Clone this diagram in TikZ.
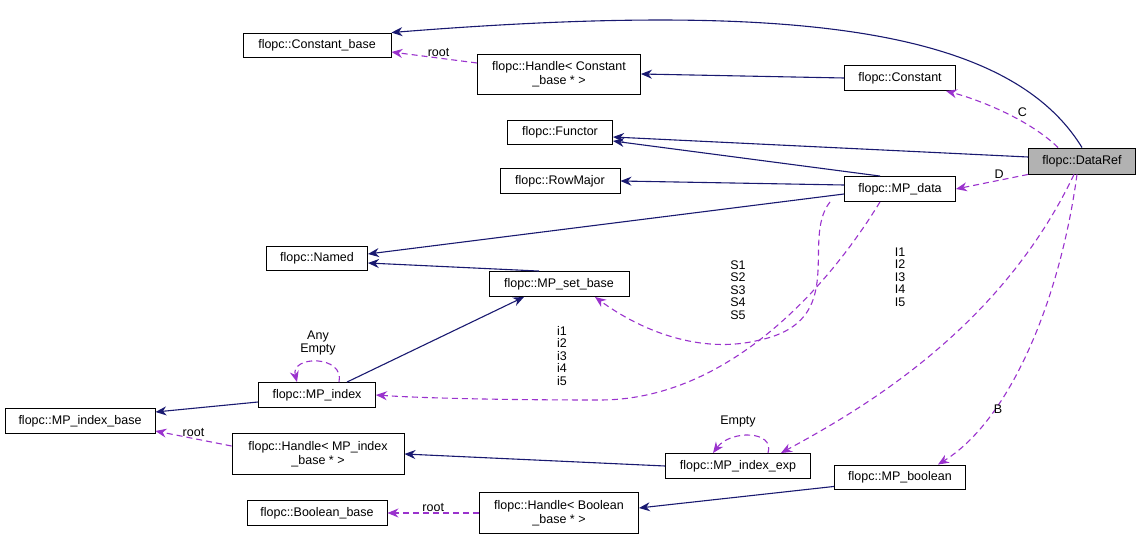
\documentclass[tikz,border=0pt]{standalone}
\usepackage{fontspec}
\setmainfont{Liberation Sans}
\usetikzlibrary{arrows.meta}
\definecolor{navy}{HTML}{191970}
\definecolor{purp}{HTML}{9A32CD}
\begin{document}
\begin{tikzpicture}[x=1pt,y=-1pt,
  box/.style={draw=black,fill=white,line width=0.9pt,inner sep=0pt,align=center,font=\fontsize{12.5}{14}\selectfont},
  inh/.style={draw=navy,-{Stealth[length=11pt,width=9pt]},line width=1.1pt},
  use/.style={draw=purp,dash pattern=on 6pt off 4pt,-{Stealth[length=11pt,width=9pt]},line width=1.1pt},
  lab/.style={font=\fontsize{12.5}{12.5}\selectfont,align=center,inner sep=1pt}]
\path[use as bounding box] (0,0) rectangle (1141,540);
\node[box,minimum width=148,minimum height=24] (cb) at (317,45) {flopc::Constant\_base};
\node[box,minimum width=163,minimum height=40] (hcb) at (559,74) {flopc::Handle< Constant\\\_base * >};
\node[box,minimum width=111,minimum height=25] (con) at (900,78) {flopc::Constant};
\node[box,minimum width=105,minimum height=24] (fun) at (560,132) {flopc::Functor};
\node[box,minimum width=107,minimum height=26,fill=black!30] (dr) at (1082,161) {flopc::DataRef};
\node[box,minimum width=120,minimum height=25] (rm) at (560,181) {flopc::RowMajor};
\node[box,minimum width=111,minimum height=25] (md) at (900,189) {flopc::MP\_data};
\node[box,minimum width=101,minimum height=24] (nam) at (317,258) {flopc::Named};
\node[box,minimum width=140,minimum height=25] (msb) at (559,284) {flopc::MP\_set\_base};
\node[box,minimum width=117,minimum height=25] (mi) at (317,395) {flopc::MP\_index};
\node[box,minimum width=150,minimum height=25] (mib) at (80,421) {flopc::MP\_index\_base};
\node[box,minimum width=172,minimum height=41] (hmib) at (318,454) {flopc::Handle< MP\_index\\\_base * >};
\node[box,minimum width=145,minimum height=25] (mie) at (738,466) {flopc::MP\_index\_exp};
\node[box,minimum width=131,minimum height=24] (mb) at (900,477) {flopc::MP\_boolean};
\node[box,minimum width=140,minimum height=25] (bb) at (317,513) {flopc::Boolean\_base};
\node[box,minimum width=159,minimum height=41] (hbb) at (559,513) {flopc::Handle< Boolean\\\_base * >};

\draw[inh] (dr.north) .. controls (1010,30) and (800,0) .. (cb.north east);
\draw[use] (hcb.west |- 0,63) -- node[lab,above,pos=0.45]{root} (cb.east |- 0,52);
\draw[inh] (con.west) -- (hcb.east);
\draw[use] ([xshift=30pt]dr.north west) .. controls (1030,120) and (980,100) .. node[lab,pos=0.4,above right]{C} ([xshift=-10pt]con.south east);
\draw[inh] ([yshift=4pt]dr.west) -- (fun.east |- 0,137);
\draw[inh] ([xshift=-20pt]md.north) -- (fun.east |- 0,141);
\draw[inh] ([yshift=4pt]md.west) -- (rm.east);
\draw[use] (dr.south west) -- node[lab,above,pos=0.4]{D} (md.east);
\draw[inh] ([yshift=-5pt]md.west) -- (nam.east |- 0,254);
\draw[inh] ([xshift=-20pt]msb.north) -- (nam.east |- 0,263);
\draw[inh] ([xshift=30pt]mi.north) -- ([xshift=-35pt]msb.south);
\draw[use] ([xshift=22pt]mi.north) .. controls (345,355) and (290,355) .. ([xshift=-20pt]mi.north);
\node[lab] (l1) at (318,343) {Any\\Empty};
\draw[use] ([xshift=-70pt]md.south) .. controls (800,240) and (850,320) .. (760,340) .. controls (700,355) and (640,330) .. ([xshift=36pt]msb.south);
\node[lab] (l2) at (738,290) {S1\\S2\\S3\\S4\\S5};
\draw[use] ([xshift=-20pt]md.south) .. controls (820,300) and (720,400) .. (600,400) .. controls (500,400) and (420,398) .. (mi.east);
\node[lab] (l3) at (562,356) {i1\\i2\\i3\\i4\\i5};
\draw[use] ([xshift=-8pt]dr.south) .. controls (1000,330) and (860,410) .. ([xshift=-30pt]mie.north east);
\node[lab] (l4) at (900,277) {I1\\I2\\I3\\I4\\I5};
\draw[use] ([xshift=-5pt]dr.south) .. controls (1060,300) and (1010,420) .. ([xshift=-28pt]mb.north east);
\node[lab] (l5) at (998,409) {B};
\draw[use] ([xshift=30pt]mie.north) .. controls (775,430) and (730,430) .. ([xshift=-25pt]mie.north);
\node[lab] (l6) at (738,421) {Empty};
\draw[inh] ([yshift=-7pt]mi.west) -- (mib.east |- 0,412);
\draw[use] (hmib.west |- 0,446) -- node[lab,above,pos=0.5]{root} (mib.east |- 0,431);
\draw[inh] (mie.west) -- (hmib.east);
\draw[inh] ([yshift=3pt]mb.south west) -- (hbb.east |- 0,508);
\draw[use] (hbb.west) -- node[lab,above,pos=0.5]{root} (bb.east);
\end{tikzpicture}
\end{document}
